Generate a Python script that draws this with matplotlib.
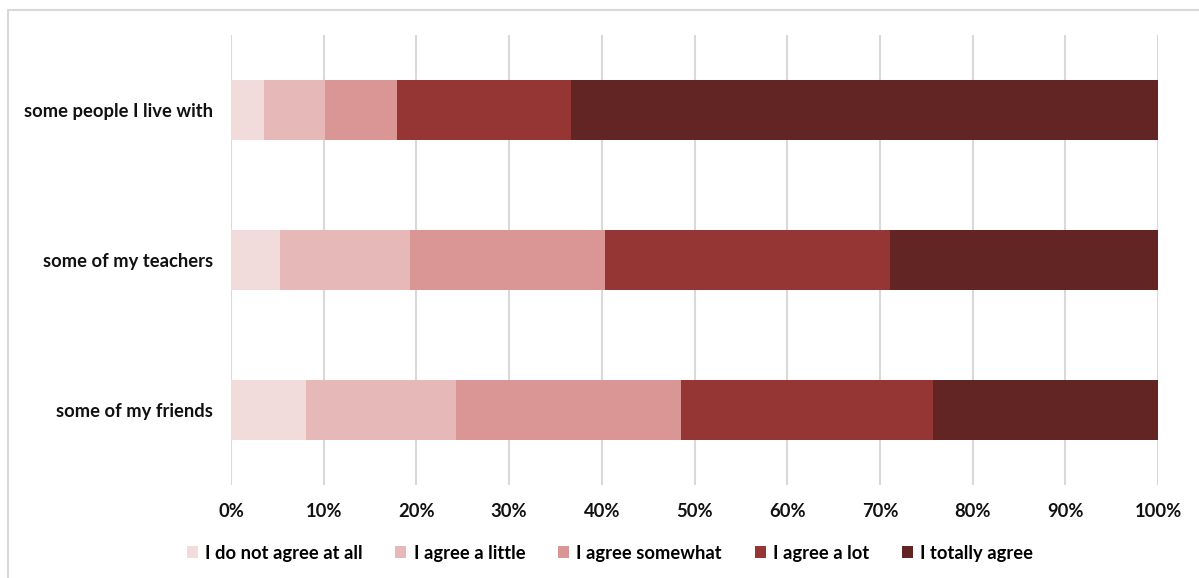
import numpy as np
import matplotlib.pyplot as plt
from matplotlib.patches import Rectangle

plt.rcParams['font.family'] = ['Lato', 'DejaVu Sans']

groups = ['some of my friends', 'some of my teachers', 'some people I live with']
answers = ['I do not agree at all', 'I agree a little', 'I agree somewhat',
           'I agree a lot', 'I totally agree']
# share of answers per group (%), rows follow groups
not_at_all = [8.1, 5.3, 3.6]
a_little = [16.2, 14.0, 6.5]
somewhat = [24.2, 21.0, 7.8]
a_lot = [27.2, 30.8, 18.8]
totally = [24.3, 28.9, 63.3]
colors = ['#F2DCDB', '#E6B8B7', '#DA9694', '#963634', '#632523']

fig = plt.figure(figsize=(11.99, 5.78), dpi=100)
ax = fig.add_axes([231/1199, 1-485/578, (1158-231)/1199, 450/578])

# outer chart frame (only left and top edges fit on the canvas)
fig.patches.append(Rectangle((8/1199, -0.01), 1.2, 1-10/578+0.01,
                             transform=fig.transFigure, fill=False,
                             edgecolor='#D9D9D9', linewidth=1.5))

y = np.arange(len(groups))
left = np.zeros(len(groups))
for vals, lab, c in zip([not_at_all, a_little, somewhat, a_lot, totally], answers, colors):
    vals = np.array(vals)
    ax.barh(y, vals, left=left, height=0.4, color=c, label=lab, zorder=3)
    left += vals

ax.set_xlim(0, 100)
ax.set_ylim(-0.5, 2.5)
ax.set_xticks(np.arange(0, 101, 10))
ax.set_xticklabels([f'{v}%' for v in range(0, 101, 10)])
ax.set_yticks(y)
ax.set_yticklabels(groups)
ax.grid(axis='x', color='#D9D9D9', linewidth=1.5, zorder=0)
for s in ax.spines.values():
    s.set_visible(False)
ax.tick_params(length=0, labelsize=13.2, labelcolor='#111111')
ax.tick_params(axis='x', pad=13)
ax.tick_params(axis='y', pad=13)
for t in ax.get_xticklabels() + ax.get_yticklabels():
    t.set_fontweight('bold')

fig.legend(loc='center', bbox_to_anchor=(610/1199, 1-553/578), ncol=5,
           frameon=False, handlelength=0.6, handleheight=0.6, handletextpad=0.4,
           columnspacing=1.78, prop={'size': 13.2, 'weight': 'bold'})

fig.savefig('out.png', dpi=100)
